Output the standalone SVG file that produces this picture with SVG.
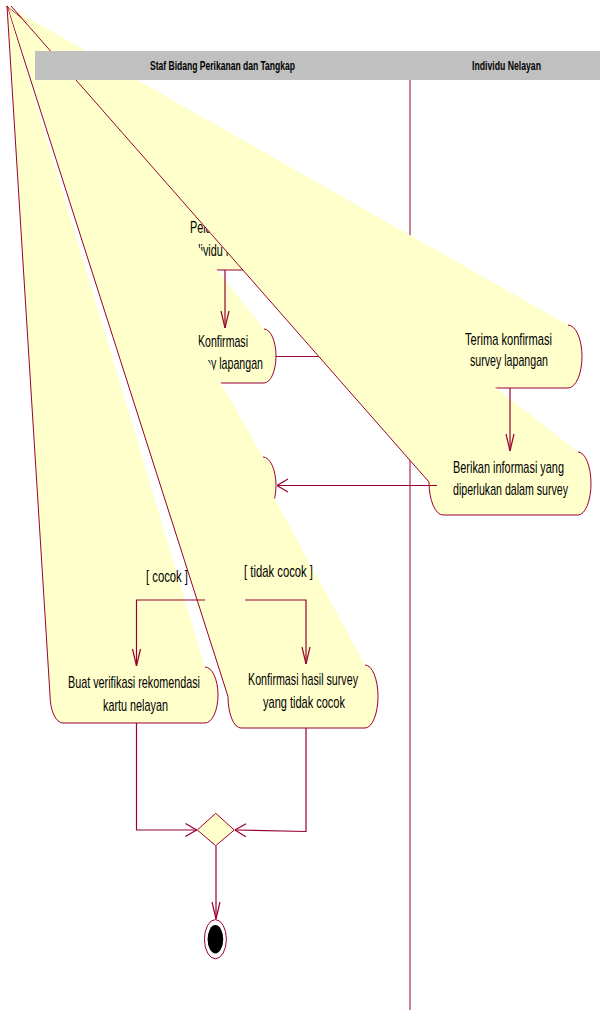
<svg xmlns="http://www.w3.org/2000/svg" width="600" height="1010" viewBox="0 0 600 1010">
<style>
.fill{fill:#FFFFCC;stroke:none}
.edge{fill:none;stroke:#990033;stroke-width:1}
.conn{fill:none;stroke:#990033;stroke-width:1.2}
.t{font-family:"Liberation Sans",Arial,sans-serif;font-size:17px;fill:#000}
.h{font-family:"Liberation Sans",Arial,sans-serif;font-size:12px;font-weight:bold;fill:#000}
</style>
<defs>
<marker id="av" viewBox="-20 -10 20 20" markerWidth="20" markerHeight="20" refX="0" refY="0" orient="auto" markerUnits="userSpaceOnUse">
<path d="M-17,-4 L0,0 L-17,4" fill="none" stroke="#990033" stroke-width="1.2"/>
</marker>
<marker id="ah" viewBox="-20 -10 20 20" markerWidth="20" markerHeight="20" refX="0" refY="0" orient="auto" markerUnits="userSpaceOnUse">
<path d="M-11,-6.5 L0,0 L-11,6.5" fill="none" stroke="#990033" stroke-width="1.2"/>
</marker>
</defs>
<rect width="600" height="1010" fill="#fff"/>
<line x1="410" y1="80" x2="410" y2="1010" stroke="#990033" stroke-width="1"/>

<g id="pelaksanaan">
<path class="fill" d="M7,6 L277,208 A13,31 0 0 1 277,270 L176,270 A13,31 0 0 1 163,239 Z"/>
<path class="edge" d="M277,208 A13,31 0 0 1 277,270 L176,270 A13,31 0 0 1 163,239 L7,6"/>
<text class="t" x="190" y="233" textLength="63" lengthAdjust="spacingAndGlyphs">Pelaksanaan</text>
<text class="t" x="185.5" y="255.5" textLength="80" lengthAdjust="spacingAndGlyphs">Individu Nelayan</text>
</g>

<g id="konfirmasi-survey">
<path class="fill" d="M7,6 L264,329 A12,27 0 0 1 264,383 L183,383 A13,27 0 0 1 170,356 Z"/>
<path class="edge" d="M264,329 A12,27 0 0 1 264,383 L183,383 A13,27 0 0 1 170,356 L7,6"/>
<text class="t" x="198" y="346.5" textLength="50" lengthAdjust="spacingAndGlyphs">Konfirmasi</text>
<text class="t" x="185" y="369" textLength="78" lengthAdjust="spacingAndGlyphs">survey lapangan</text>
</g>

<g id="conn-a" class="connectors">
<path class="conn" d="M225,270 L225,328" marker-end="url(#av)"/>
</g>

<g id="terima">
<path class="fill" d="M7,6 L568,325 A14,31.5 0 0 1 568,388 L450,388 A14,31.5 0 0 1 436,356.5 Z"/>
<path class="edge" d="M568,325 A14,31.5 0 0 1 568,388 L450,388 A14,31.5 0 0 1 436,356.5 L7,6"/>
<text class="t" x="465" y="345" textLength="87" lengthAdjust="spacingAndGlyphs">Terima konfirmasi</text>
<text class="t" x="470" y="366" textLength="78" lengthAdjust="spacingAndGlyphs">survey lapangan</text>
</g>

<g id="conn-b" class="connectors">
<path class="conn" d="M276,356.5 L435,356.5" marker-end="url(#ah)"/>
</g>

<g id="berikan">
<path class="fill" d="M7,6 L578,452 A13,31.5 0 0 1 578,515 L443,515 A14,33 0 0 1 429,482 L11,6 Z"/>
<path class="edge" d="M578,452 A13,31.5 0 0 1 578,515 L443,515 A14,33 0 0 1 429,482 L11,6"/>
<text class="t" x="453" y="472.5" textLength="111" lengthAdjust="spacingAndGlyphs">Berikan informasi yang</text>
<text class="t" x="453" y="494.5" textLength="115" lengthAdjust="spacingAndGlyphs">diperlukan dalam survey</text>
</g>

<g id="cek">
<path class="fill" d="M7,6 L263,457 A13,28.5 0 0 1 263,514 L185,514 A13,28.5 0 0 1 172,485.5 Z"/>
<path class="edge" d="M263,457 A13,28.5 0 0 1 263,514 L185,514 A13,28.5 0 0 1 172,485.5 L7,6"/>
</g>

<g id="conn-c" class="connectors">
<path class="conn" d="M510,388 L510,451" marker-end="url(#av)"/>
<path class="conn" d="M437,485.5 L277,485.5" marker-end="url(#ah)"/>
</g>

<g id="konfirmasi-hasil">
<path class="fill" d="M7,6 L365,665 A13,31.5 0 0 1 365,728 L241,728 A13,31.5 0 0 1 228,696.5 Z"/>
<path class="edge" d="M365,665 A13,31.5 0 0 1 365,728 L241,728 A13,31.5 0 0 1 228,696.5 L7,6"/>
<text class="t" x="248" y="684.5" textLength="110" lengthAdjust="spacingAndGlyphs">Konfirmasi hasil survey</text>
<text class="t" x="263" y="707.5" textLength="82" lengthAdjust="spacingAndGlyphs">yang tidak cocok</text>
</g>

<g id="buat">
<path class="fill" d="M7,6 L205,667 A13,28 0 0 1 205,723 L63,723 A13,28 0 0 1 50,695 Z"/>
<path class="edge" d="M205,667 A13,28 0 0 1 205,723 L63,723 A13,28 0 0 1 50,695 L7,6"/>
<text class="t" x="68" y="688" textLength="132" lengthAdjust="spacingAndGlyphs">Buat verifikasi rekomendasi</text>
<text class="t" x="103" y="711" textLength="65" lengthAdjust="spacingAndGlyphs">kartu nelayan</text>
</g>

<g id="connectors">
<path class="conn" d="M205,600 L136.5,600 L136.5,666" marker-end="url(#av)"/>
<path class="conn" d="M245,600 L306,600 L306,664" marker-end="url(#av)"/>
<path class="conn" d="M136.5,723 L136.5,830 L196.5,830" marker-end="url(#ah)"/>
<path class="conn" d="M306,728 L306,831.5 L235,830" marker-end="url(#ah)"/>
<path class="conn" d="M216,846 L216,919" marker-end="url(#av)"/>
<text class="t" x="146" y="581.5" textLength="42" lengthAdjust="spacingAndGlyphs">[ cocok ]</text>
<text class="t" x="244" y="577" textLength="69" lengthAdjust="spacingAndGlyphs">[ tidak cocok ]</text>
</g>

<g id="merge">
<path d="M197.3,830 L215.7,813.3 L234.3,830 L215.7,845.7 Z" fill="#FFFFCC" stroke="#990033" stroke-width="1"/>
</g>

<g id="final">
<ellipse cx="215.4" cy="939.2" rx="11" ry="19.6" fill="#fff" stroke="#990033" stroke-width="1"/>
<ellipse cx="215.4" cy="939.2" rx="7.8" ry="14.2" fill="#000"/>
</g>

<g id="header">
<rect x="35" y="51" width="565" height="29" fill="#C0C0C0"/>
<text class="h" x="150" y="69.5" textLength="145" lengthAdjust="spacingAndGlyphs">Staf Bidang Perikanan dan Tangkap</text>
<text class="h" x="472" y="69.5" textLength="69" lengthAdjust="spacingAndGlyphs">Individu Nelayan</text>
</g>
</svg>
